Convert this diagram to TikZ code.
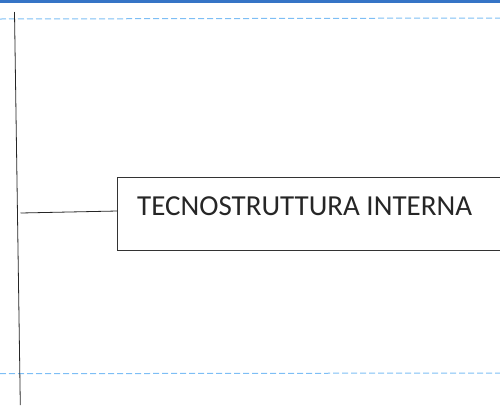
\documentclass[tikz,border=0pt]{standalone}
\usepackage{fontspec}
\setmainfont{Carlito}
\begin{document}
\begin{tikzpicture}[x=1pt,y=-1pt,
  guide/.style={draw=guideblue,line width=1pt,dash pattern=on 6pt off 3pt},
  conn/.style={draw=black!85,line width=0.8pt},
  boxstyle/.style={draw=black!80,line width=0.8pt,fill=white}]
\definecolor{guideblue}{HTML}{7DBEF5}
\definecolor{barblue}{HTML}{3574C6}
\useasboundingbox (0,0) rectangle (500,405);
\fill[barblue] (0,0) rectangle (500,2.5);
\coordinate (gl1) at (0,19);
\coordinate (gr1) at (500,18);
\coordinate (gl2) at (0,373.7);
\coordinate (gr2) at (500,373);
\draw[guide] (gl1) -- (gr1);
\draw[guide] (gl2) -- (gr2);
\coordinate (vtop) at (14.5,12);
\coordinate (vbot) at (20.3,405);
\draw[conn] (vtop) -- (vbot);
\draw[boxstyle] (117.5,177) rectangle (503,250);
\node[anchor=base west,inner sep=0pt,text=black!85,font=\fontsize{29}{34}\selectfont] (t) at (137,215.5) {TECNOSTRUTTURA INTERNA};
\coordinate (cs) at (20.5,213);
\coordinate (ce) at (117.5,211);
\draw[conn] (cs) -- (ce);
\end{tikzpicture}
\end{document}
